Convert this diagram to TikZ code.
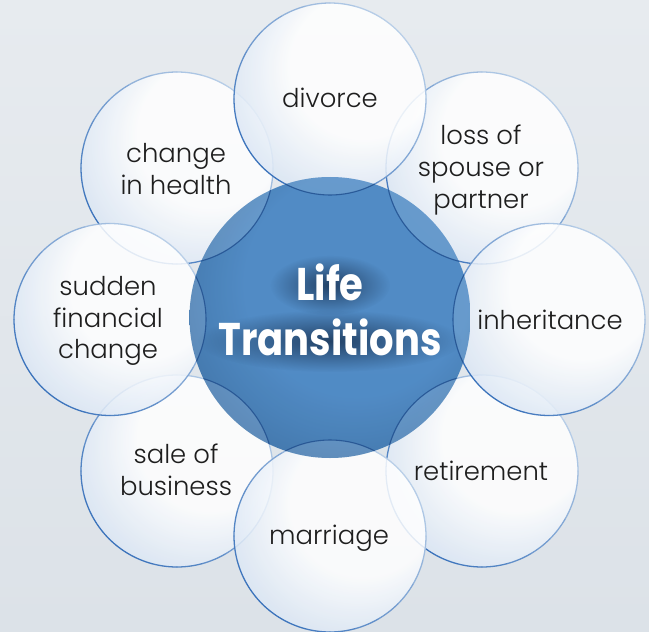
\documentclass[tikz,border=0pt]{standalone}
\usepackage{fontspec}
\setmainfont{Poppins}
\newfontfamily\lightfont{Poppins Light}
\usetikzlibrary{fadings}
\definecolor{bgtop}{HTML}{E7EBEF}
\definecolor{bgbot}{HTML}{DCE2E8}
\definecolor{bubblue}{HTML}{AAC5E6}
\definecolor{bstrong}{HTML}{3A72BB}
\definecolor{blight}{HTML}{B9CFE8}
\definecolor{coreA}{HTML}{4886C3}
\definecolor{coreB}{HTML}{24507E}
\definecolor{innerline}{HTML}{1D4A8A}
\definecolor{txt}{HTML}{1E1E1E}
\definecolor{glow}{HTML}{0C1E38}
\pgfdeclareradialshading{bubble}{\pgfpoint{14bp}{14bp}}{color(0bp)=(white); color(19bp)=(white); color(50bp)=(bubblue)}
\pgfdeclareradialshading{core}{\pgfpoint{8bp}{10bp}}{color(0bp)=(coreA); color(20bp)=(coreA); color(50bp)=(coreB)}
\tikzfading[name=halo, inner color=transparent!5, outer color=transparent!100]
\newcommand\bubblefill[1]{\shade[shading=bubble, fill opacity=0.85] (#1) circle[radius=96];}
\newcommand\bubbleedge[1]{%
  \foreach \a in {0,15,...,345}{%
    \pgfmathtruncatemacro\w{50+50*cos(\a+7.5-135)}%
    \draw[line width=1.3, line cap=round, draw=bstrong!\w!blight] (#1) ++(\a:96) arc[start angle=\a, end angle=\a+15, radius=96];}}
\tikzset{
  lbl/.style={text=txt, font=\lightfont\fontsize{26}{32}\selectfont, align=center, inner sep=0pt},
  ttl/.style={font=\fontsize{46}{46}\bfseries\selectfont, inner sep=0pt, anchor=base}
}
\begin{document}
\begin{tikzpicture}[x=1bp,y=-1bp]
\shade[top color=bgtop, bottom color=bgbot] (0,0) rectangle (649,632);
\useasboundingbox (0,0) rectangle (649,632);
% centres
\coordinate (cDiv) at (330,99);
\coordinate (cLoss) at (482,168);
\coordinate (cInh) at (549,319.5);
\coordinate (cRet) at (482,471);
\coordinate (cMar) at (330,536);
\coordinate (cSale) at (177,471);
\coordinate (cSud) at (110,319.5);
\coordinate (cHea) at (177,168);
\coordinate (cCore) at (330,317.5);
% diagonal bubbles (below)
\foreach \c in {cHea,cLoss,cSale,cRet}{\bubblefill{\c}\bubbleedge{\c}}
% cardinal bubbles (above)
\foreach \c in {cDiv,cSud,cInh,cMar}{\bubblefill{\c}\bubbleedge{\c}}
% core
\shade[shading=core, fill opacity=0.94] (cCore) circle[radius=140.5];
\begin{scope}
  \clip (cCore) circle[radius=140.5];
  \foreach \c in {cHea,cLoss,cSale,cRet,cDiv,cSud,cInh,cMar}{
    \fill[white, fill opacity=0.13] (\c) circle[radius=96];
    \draw[innerline, draw opacity=0.75, line width=1.1] (\c) circle[radius=96];}
\end{scope}
% labels
\node[lbl] (tDiv) at (330,98) {divorce};
\node[lbl] (tLoss) at (481,170) {loss of\\spouse or\\partner};
\node[lbl] (tInh) at (550,320) {inheritance};
\node[lbl] (tRet) at (481,471) {retirement};
\node[lbl] (tMar) at (329,538) {marriage};
\node[lbl] (tSale) at (176,470) {sale of\\business};
\node[lbl] (tSud) at (108,321) {sudden\\financial\\change};
\node[lbl] (tHea) at (176,169) {change\\in health};
% title halo
\fill[glow, path fading=halo, fill opacity=0.7] (330,285) ellipse[x radius=60, y radius=30];
\fill[glow, path fading=halo, fill opacity=0.7] (330,341) ellipse[x radius=132, y radius=31];
\node[ttl, text=white] (tLife) at (330,300) {\scalebox{0.84}[1]{Life}};
\node[ttl, text=white] (tTrans) at (330,355) {\scalebox{0.84}[1]{Transitions}};
\end{tikzpicture}
\end{document}
